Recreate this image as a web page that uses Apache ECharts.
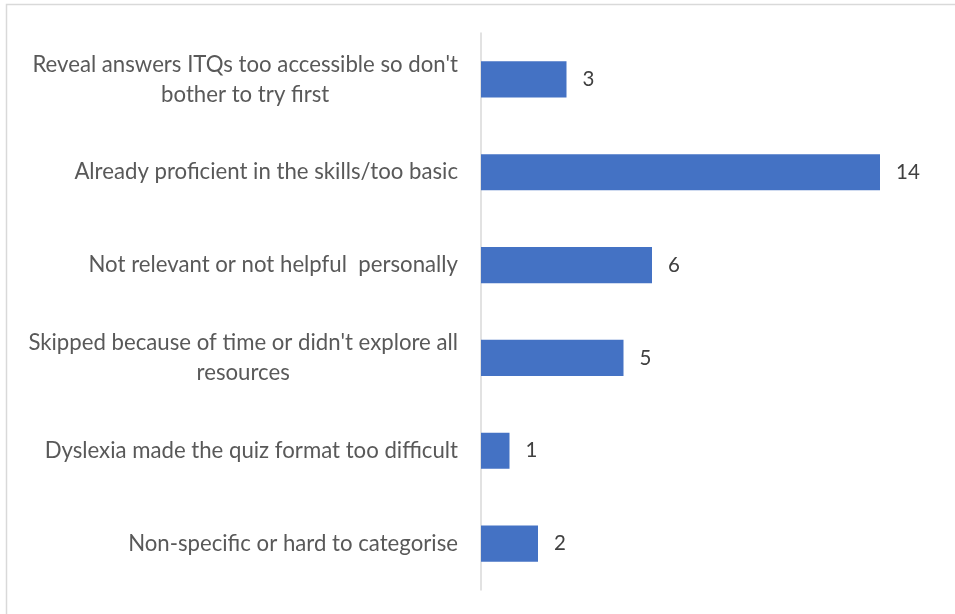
<!DOCTYPE html>
<html>
<head>
<meta charset="utf-8">
<script src="https://cdn.jsdelivr.net/npm/echarts@6/dist/echarts.min.js"></script>
<style>html,body{margin:0;padding:0;background:#fff}#c{width:955px;height:614px}</style>
</head>
<body>
<div id="c"></div>
<script>
const categories = [
  "Reveal answers ITQs too accessible so don't\nbother to try first",
  "Already proficient in the skills/too basic",
  "Not relevant or not helpful  personally",
  "Skipped because of time or didn't explore all\nresources",
  "Dyslexia made the quiz format too difficult",
  "Non-specific or hard to categorise"
];
const values = [3, 14, 6, 5, 1, 2];

const FONT = 'Lato';
const FS = 22.2;
const chart = echarts.init(document.getElementById('c'), null, {renderer: 'canvas'});
chart.setOption({
  animation: false,
  backgroundColor: '#ffffff',
  graphic: [{
    type: 'rect',
    shape: {x: 6.5, y: 4.5, width: 1000, height: 1000},
    style: {fill: 'none', stroke: '#d9d9d9', lineWidth: 1.5},
    silent: true
  }],
  grid: {left: 481, top: 33, width: 456, height: 557, containLabel: false},
  xAxis: {
    type: 'value', min: 0, max: 16, show: false
  },
  yAxis: {
    type: 'category',
    data: categories,
    inverse: true,
    axisLine: {show: true, lineStyle: {color: '#d9d9d9', width: 1.5}},
    axisTick: {show: false},
    splitLine: {show: false},
    axisLabel: {
      margin: 23,
      color: '#595959',
      fontFamily: FONT,
      fontSize: FS,
      lineHeight: 30,
      formatter: function (v) {
        return v.split('\n').map(function (s) { return '{c|' + s + '}'; }).join('\n');
      },
      rich: {c: {align: 'center', color: '#595959', fontFamily: FONT, fontSize: FS, lineHeight: 30}}
    }
  },
  series: [{
    type: 'bar',
    data: values,
    barCategoryGap: '61%',
    itemStyle: {color: '#4472C4'},
    label: {
      show: true, position: 'right', distance: 16,
      color: '#404040', fontFamily: FONT, fontSize: 20.5
    }
  }]
});
</script>
</body>
</html>
